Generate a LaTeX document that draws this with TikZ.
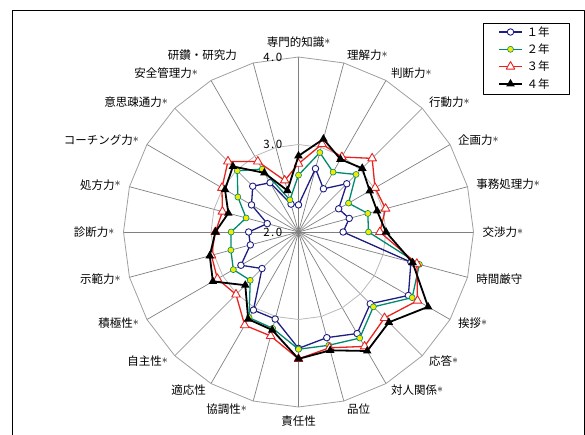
\documentclass[tikz,border=0pt]{standalone}
\usepackage{fontspec}
\setmainfont{Noto Sans CJK JP}
\usetikzlibrary{shapes.geometric,calc}
\definecolor{nen1}{HTML}{1E1E82}
\definecolor{nen2}{HTML}{008A6E}
\definecolor{nen3}{HTML}{E8231E}
\definecolor{kiiro}{HTML}{F2EA00}
\newcommand{\kome}{\raisebox{.18em}{$\ast$}}
\tikzset{
  yr1/.style={nen1, line width=1.3pt},
  yr2/.style={nen2, line width=1.3pt},
  yr3/.style={nen3, line width=1.3pt},
  yr4/.style={black, line width=1.8pt},
  mk1/.style={circle, draw=nen1, fill=white, line width=.9pt, inner sep=0pt, minimum size=6.5pt},
  mk2/.style={circle, draw=nen2, fill=kiiro, line width=.6pt, inner sep=0pt, minimum size=6pt},
  mk3/.style={regular polygon, regular polygon sides=3, draw=nen3, fill=white, line width=.9pt, inner sep=0pt, minimum size=10pt},
  mk4/.style={regular polygon, regular polygon sides=3, fill=black, inner sep=0pt, minimum size=10pt},
  lbl/.style={inner sep=1pt}
}
\begin{document}
\begin{tikzpicture}[x=1pt,y=1pt, font=\fontsize{11.5}{13}\selectfont, line join=round]
\useasboundingbox (-298.5,-202) rectangle (286.5,232);
\coordinate (O) at (0,0);
\draw[line width=.8pt] (-286.5,-215) rectangle (285.5,222);
% grid
\foreach \i in {0,...,23}{
  \coordinate (v\i) at ({90-15*\i}:175);
  \coordinate (w\i) at ({90-15*\i}:87.5);
  \draw[gray, line width=.7pt] (O) -- (v\i);
}
\draw[gray!75, line width=.8pt] (v0) \foreach \i in {1,...,23}{ -- (v\i)} -- cycle;
\draw[gray!55, line width=.8pt] (w0) \foreach \i in {1,...,23}{ -- (w\i)} -- cycle;
\foreach \a/\r [count=\k] in {2/0, 3/87.5, 4/175}
  \node[lbl, anchor=east] (t\k) at (-15,\r) {\a\kern1.5pt.\kern1.5pt0};
% axis labels
\foreach \t/\a/\s [count=\i from 0] in {専門的知識\kome/south/0, 理解力\kome/west/0, 判断力\kome/west/0,
  行動力\kome/west/0, 企画力\kome/west/0, 事務処理力\kome/west/0, 交渉力\kome/west/0, 時間厳守/west/0,
  挨拶\kome/west/0, 応答\kome/west/0, 対人関係\kome/west/0, 品位/west/0, 責任性/north/0,
  協調性\kome/east/-3, 適応性/east/0, 自主性\kome/east/0, 積極性\kome/east/0, 示範力\kome/east/0,
  診断力\kome/east/0, 処方力\kome/east/0, コーチング力\kome/east/0, 意思疎通力\kome/east/0,
  安全管理力\kome/east/-8, 研鑽・研究力/east/-13}
  \node[lbl, anchor=\a, xshift=\s] (l\i) at ({90-15*\i}:183) {\t};
% data
\foreach \s/\vals in {
  1/{2.31,2.75,2.57,2.78,2.53,2.60,2.51,3.33,3.45,3.16,3.34,3.25,3.33,3.03,3.03,2.59,2.76,2.57,2.57,2.37,2.62,2.74,2.65,2.33},
  2/{2.65,2.94,2.79,2.93,2.66,2.82,2.80,3.43,3.50,3.21,3.40,3.34,3.34,3.14,3.13,2.78,2.86,2.80,2.77,2.62,2.80,2.99,2.83,2.38},
  3/{2.78,3.04,2.99,3.19,3.01,3.03,2.93,3.40,3.57,3.39,3.51,3.37,3.45,3.23,3.23,3.01,3.07,3.03,2.95,2.90,3.01,3.14,2.93,2.61},
  4/{2.87,3.10,2.96,3.03,2.94,2.93,3.00,3.35,3.71,3.46,3.57,3.40,3.45,3.16,3.15,2.86,3.13,3.05,2.95,2.83,2.97,3.06,2.78,2.49}}{
  \foreach \v [count=\i from 0] in \vals
    \coordinate (p\s-\i) at ({90-15*\i}:{87.5*(\v-2)});
  \draw[yr\s] (p\s-0) \foreach \i in {1,...,23}{ -- (p\s-\i)} -- cycle;
  \foreach \i in {0,...,23}
    \node[mk\s] (m\s-\i) at (p\s-\i) {};
}
% legend
\draw[line width=.8pt, fill=white] (184.5,138) rectangle (270.5,209);
\foreach \s/\t [count=\k] in {1/１年, 2/２年, 3/３年, 4/４年}{
  \coordinate (ga\s) at (200.5,{217.3-17.3*\k});
  \coordinate (gb\s) at (223.5,{217.3-17.3*\k});
  \draw[yr\s] (ga\s) -- (gb\s);
  \node[mk\s] (gm\s) at ($(ga\s)!.5!(gb\s)$) {};
  \node[lbl, anchor=west] (gt\s) at (227,{217.3-17.3*\k}) {\t};
}
\end{tikzpicture}
\end{document}
